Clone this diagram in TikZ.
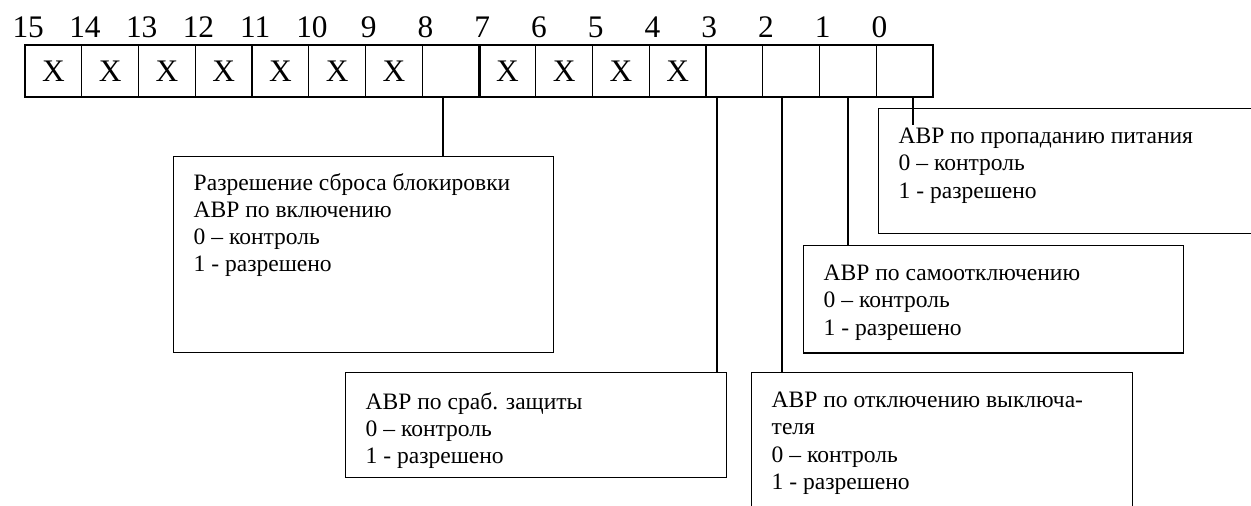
\documentclass[tikz,border=0pt]{standalone}
\usepackage{fontspec}
\setmainfont{Liberation Serif}
\usetikzlibrary{positioning}

\begin{document}
\begin{tikzpicture}[x=0.51pt, y=-0.51pt, line width=0.75pt,
  every node/.style={font=\fontsize{12}{13.8}\selectfont},
  cell/.style={draw, minimum width=28.94pt, minimum height=26.52pt, inner sep=0pt, font=\fontsize{16}{18}\selectfont},
  bitnum/.style={anchor=base, inner sep=0pt, font=\fontsize{16}{18}\selectfont},
  note/.style={draw, anchor=north west, inner sep=0pt},
  notetext/.style={anchor=north west, align=left, inner sep=0pt}]

% Page frame
\clip (0,0) rectangle (1251,505);

% Register cells and bit numbers
\foreach \i in {0,...,15} {
  \node[cell] (c\i) at ({53.375+(15-\i)*56.75},71) {};
  \node[bitnum] (n\i) at ([xshift=2pt, yshift=3.6pt]c\i.north west) {\i};
}
\foreach \i in {15,14,13,12,11,10,9,7,6,5,4}
  \node[cell, draw=none] (x\i) at (c\i) {X};
\draw[line width=1.4pt] (c8.north east) -- (c8.south east);

% Bit 8
\node[note, minimum width=193.8pt, minimum height=99.96pt] (bReset) at (173,156) {};
\node[notetext] (tReset) at ([xshift=10.2pt, yshift=-8.5pt]bReset.north west)
  {Разрешение сброса блокировки\\АВР по включению\\0 – контроль\\1 - разрешено};
\draw ([xshift=-3.9pt]c8.south) -- ([xshift=-3.9pt]c8.south |- bReset.north);

% Bit 3
\node[note, minimum width=194.3pt, minimum height=53.55pt] (bProt) at (345,372) {};
\node[notetext] (tProt) at ([xshift=10.2pt, yshift=-10pt]bProt.north west)
  {АВР по сраб. защиты\\0 – контроль\\1 - разрешено};
\draw ([xshift=-8.9pt]c3.south) -- ([xshift=-8.9pt]c3.south |- bProt.north);

% Bit 2
\node[note, minimum width=194.3pt, minimum height=75.5pt] (bTrip) at (751,372) {};
\node[notetext] (tTrip) at ([xshift=10.2pt, yshift=-10pt]bTrip.north west)
  {АВР по отключению выключа-\\теля\\0 – контроль\\1 - разрешено};
\draw ([xshift=-4.6pt]c2.south) -- ([xshift=-4.6pt]c2.south |- bTrip.north);

% Bit 1
\node[note, minimum width=193.8pt, minimum height=54.6pt] (bSelf) at (803,245) {};
\node[notetext] (tSelf) at ([xshift=10.2pt, yshift=-10pt]bSelf.north west)
  {АВР по самоотключению\\0 – контроль\\1 - разрешено};
\draw (c1.south) -- (c1.south |- bSelf.north);

% Bit 0
\node[note, minimum width=200pt, minimum height=63.75pt] (bLoss) at (878,108) {};
\node[notetext] (tLoss) at ([xshift=10.2pt, yshift=-10pt]bLoss.north west)
  {АВР по пропаданию питания\\0 – контроль\\1 - разрешено};
\draw ([xshift=4.3pt]c0.south) -- ([xshift=4.3pt, yshift=-8.7pt]c0.south |- bLoss.north);

\end{tikzpicture}
\end{document}
